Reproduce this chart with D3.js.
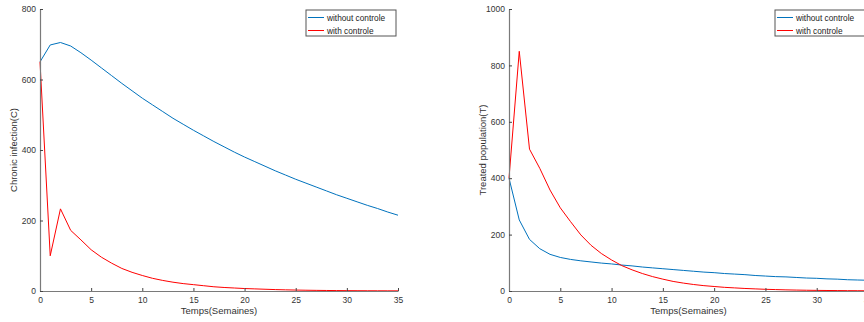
<!DOCTYPE html>
<html>
<head>
<meta charset="utf-8">
<script src="https://cdn.jsdelivr.net/npm/d3@7"></script>
<style>
  body { margin: 0; background: #fff; }
  svg { display: block; font-family: "Liberation Sans", Arial, sans-serif; }
</style>
</head>
<body>
<svg id="chart" width="864" height="322"></svg>
<script>
// weeks 0..35
const weeks = d3.range(0, 36);

// chronic infection (C)
const chronicWithout = [650, 698, 705, 695, 676, 655, 633, 611, 589, 568, 547, 528, 509, 490, 473, 456, 440, 424, 409, 394,
  380, 367, 354, 341, 329, 317, 306, 295, 284, 273, 263, 253, 243, 234, 224, 215];
const chronicWith = [650, 100, 233, 172, 145, 117, 96, 79, 64, 53, 44, 36, 30, 25, 21, 18, 15, 12, 10, 8.5,
  7, 6, 5, 4, 3.3, 2.7, 2.2, 1.8, 1.5, 1.2, 1, 0.8, 0.7, 0.6, 0.5, 0.4];

// treated population (T)
const treatedWithout = [400, 252, 183, 150, 130, 119, 112, 107, 103, 99, 96, 92, 89, 85, 82, 79, 76, 73, 70, 67,
  65, 62, 60, 58, 55, 53, 51, 50, 48, 46, 45, 43, 42, 40, 39, 38];
const treatedWith = [400, 850, 503, 435, 358, 295, 246, 199, 162, 133, 110, 90, 75, 62, 51, 42, 34, 28, 23, 19,
  16, 13, 11, 9, 7.5, 6, 5, 4, 3.3, 2.7, 2.2, 1.8, 1.5, 1.2, 1, 0.8];

const xTicks = [0, 5, 10, 15, 20, 25, 30, 35];
const legendLabels = ["without controle", "with controle"];
const colors = ["#0072BD", "#FF0000"];

const svg = d3.select("#chart");

function drawPanel(cfg) {
  const x = d3.scaleLinear().domain([0, 35]).range([cfg.left, cfg.right]);
  const y = d3.scaleLinear().domain([0, cfg.yMax]).range([291, 9]);
  const g = svg.append("g");

  // lines
  const line = (vals) => d3.line().x((d, i) => x(weeks[i])).y(d => y(d))(vals);
  g.append("path").attr("d", line(cfg.series[0])).attr("fill", "none")
    .attr("stroke", colors[0]).attr("stroke-width", 1);
  g.append("path").attr("d", line(cfg.series[1])).attr("fill", "none")
    .attr("stroke", colors[1]).attr("stroke-width", 1);

  // axes (ticks inward)
  const xAxis = g.append("g").attr("transform", "translate(0,291)")
    .call(d3.axisBottom(x).tickValues(xTicks).tickFormat(d3.format("d"))
      .tickSizeInner(-3).tickSizeOuter(0).tickPadding(6));
  const yAxis = g.append("g").attr("transform", "translate(" + cfg.left + ",0)")
    .call(d3.axisLeft(y).tickValues(cfg.yTicks).tickFormat(d3.format("d"))
      .tickSizeInner(-3).tickSizeOuter(0).tickPadding(4));
  [xAxis, yAxis].forEach(a => {
    a.select(".domain").attr("stroke", "#7a7a7a").attr("stroke-width", 1.2);
    a.selectAll(".tick line").attr("stroke", "#444");
    a.selectAll(".tick text").attr("fill", "#333").style("font-size", "8.5px")
      .style("font-family", "'Liberation Sans', Arial, sans-serif");
  });

  // axis labels
  g.append("text").attr("x", (cfg.left + cfg.right) / 2).attr("y", 314)
    .attr("text-anchor", "middle").attr("fill", "#333").style("font-size", "9.5px")
    .text("Temps(Semaines)");
  g.append("text").attr("transform", "translate(" + (cfg.left - 23) + ",150) rotate(-90)")
    .attr("text-anchor", "middle").attr("fill", "#333").style("font-size", "9.5px")
    .text(cfg.yLabel);

  // legend
  const lg = g.append("g").attr("transform", "translate(" + cfg.legendX + ",10)");
  lg.append("rect").attr("width", 90).attr("height", 26).attr("fill", "#fff")
    .attr("stroke", "#555").attr("stroke-width", 1);
  legendLabels.forEach((lab, i) => {
    const yy = 7.5 + i * 13;
    lg.append("line").attr("x1", 2).attr("x2", 18).attr("y1", yy).attr("y2", yy)
      .attr("stroke", colors[i]).attr("stroke-width", 1);
    lg.append("text").attr("x", 21).attr("y", yy + 3).attr("fill", "#222")
      .style("font-size", "8.3px").text(lab);
  });
}

drawPanel({
  left: 40, right: 398, yMax: 800, yTicks: [0, 200, 400, 600, 800],
  yLabel: "Chronic infection(C)", series: [chronicWithout, chronicWith], legendX: 306
});
drawPanel({
  left: 509, right: 868, yMax: 1000, yTicks: [0, 200, 400, 600, 800, 1000],
  yLabel: "Treated population(T)", series: [treatedWithout, treatedWith], legendX: 775
});
</script>
</body>
</html>
